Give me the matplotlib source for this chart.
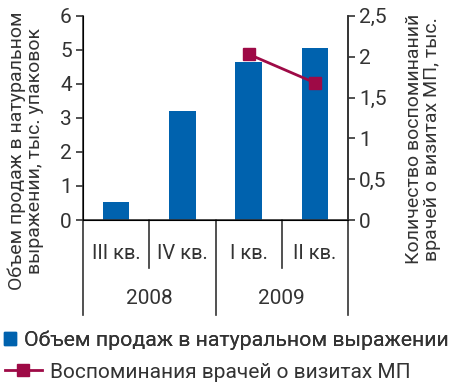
import matplotlib.pyplot as plt
import matplotlib.ticker as mtick
from matplotlib.patches import Patch
from matplotlib.lines import Line2D

quarters = ['III кв.', 'IV кв.', 'I кв.', 'II кв.']
years = ['2008', '2009']
sales = [0.52, 3.19, 4.65, 5.04]
mentions = [None, None, 2.03, 1.68]

blue = '#0062ae'
wine = '#9e0a46'
dark = '#333333'

plt.rcParams['font.family'] = ['Roboto', 'DejaVu Sans']
fig = plt.figure(figsize=(4.5, 3.86), dpi=100)
ax = fig.add_axes([0.1844, 0.430, 0.589, 0.529])
x = list(range(len(quarters)))
ax.bar(x, sales, width=0.4, color=blue)
ax.set_xlim(-0.5, 3.5)
ax.set_ylim(0, 6)
ax.set_yticks(range(7))
ax.set_xticks([])
ax.spines['top'].set_visible(False)
for s in ['left', 'bottom', 'right']:
    ax.spines[s].set_color(dark)
    ax.spines[s].set_linewidth(1.2)
ax.tick_params(axis='y', labelsize=15, length=5, width=1.2, color=dark, labelcolor=dark, pad=3)

ax2 = ax.twinx()
ax2.set_ylim(0, 2.5)
ax2.set_yticks([0, 0.5, 1, 1.5, 2, 2.5])
ax2.yaxis.set_major_formatter(mtick.FuncFormatter(lambda v, p: f'{v:g}'.replace('.', ',')))
ax2.spines['top'].set_visible(False)
ax2.spines['right'].set_color(dark)
ax2.spines['right'].set_linewidth(1.2)
ax2.tick_params(axis='y', labelsize=15, length=5, width=1.2, color=dark, labelcolor=dark, pad=3)
xs = [i for i, v in enumerate(mentions) if v is not None]
ys = [v for v in mentions if v is not None]
ax2.plot(xs, ys, color=wine, lw=2, marker='s', markersize=9)

# category separators and labels under the axis
tr = ax.get_xaxis_transform()
for b in [0.5, 2.5]:
    ax.plot([b, b], [0, -0.235], color=dark, lw=1.2, transform=tr, clip_on=False)
for b in [-0.5, 1.5, 3.5]:
    ax.plot([b, b], [0, -0.465], color=dark, lw=1.2, transform=tr, clip_on=False)
for i, q in enumerate(quarters):
    ax.text(i, -0.162, q, transform=tr, ha='center', va='center', fontsize=14.5, color=dark)
for j, yv in enumerate(years):
    ax.text(2 * j + 0.5, -0.382, yv, transform=tr, ha='center', va='center', fontsize=15, color=dark)

fig.text(0.057, 0.61, 'Объем продаж в натуральном\nвыражении, тыс. упаковок', rotation=90,
         ha='center', va='center', fontsize=14, color=dark, linespacing=1.0, multialignment='center')
fig.text(0.94, 0.64, 'Количество воспоминаний\nврачей о визитах МП, тыс.', rotation=90,
         ha='center', va='center', fontsize=14, color=dark, linespacing=1.0, multialignment='center')

leg1 = fig.legend(handles=[Patch(color=blue, label='Объем продаж в натуральном выражении')],
                  loc='center left', bbox_to_anchor=(0.008, 0.119), frameon=False, fontsize=15.3,
                  handlelength=0.6, handleheight=0.6, handletextpad=0.35, borderaxespad=0, borderpad=0,
                  labelcolor=dark)
fig.add_artist(leg1)
fig.legend(handles=[Line2D([], [], color=wine, lw=2, marker='s', markersize=9,
                           label='Воспоминания врачей о визитах МП')],
           loc='center left', bbox_to_anchor=(0.01, 0.036), frameon=False, fontsize=15,
           handlelength=1.8, handletextpad=0.4, borderaxespad=0, borderpad=0, labelcolor=dark)

fig.savefig('out.png', dpi=100)
